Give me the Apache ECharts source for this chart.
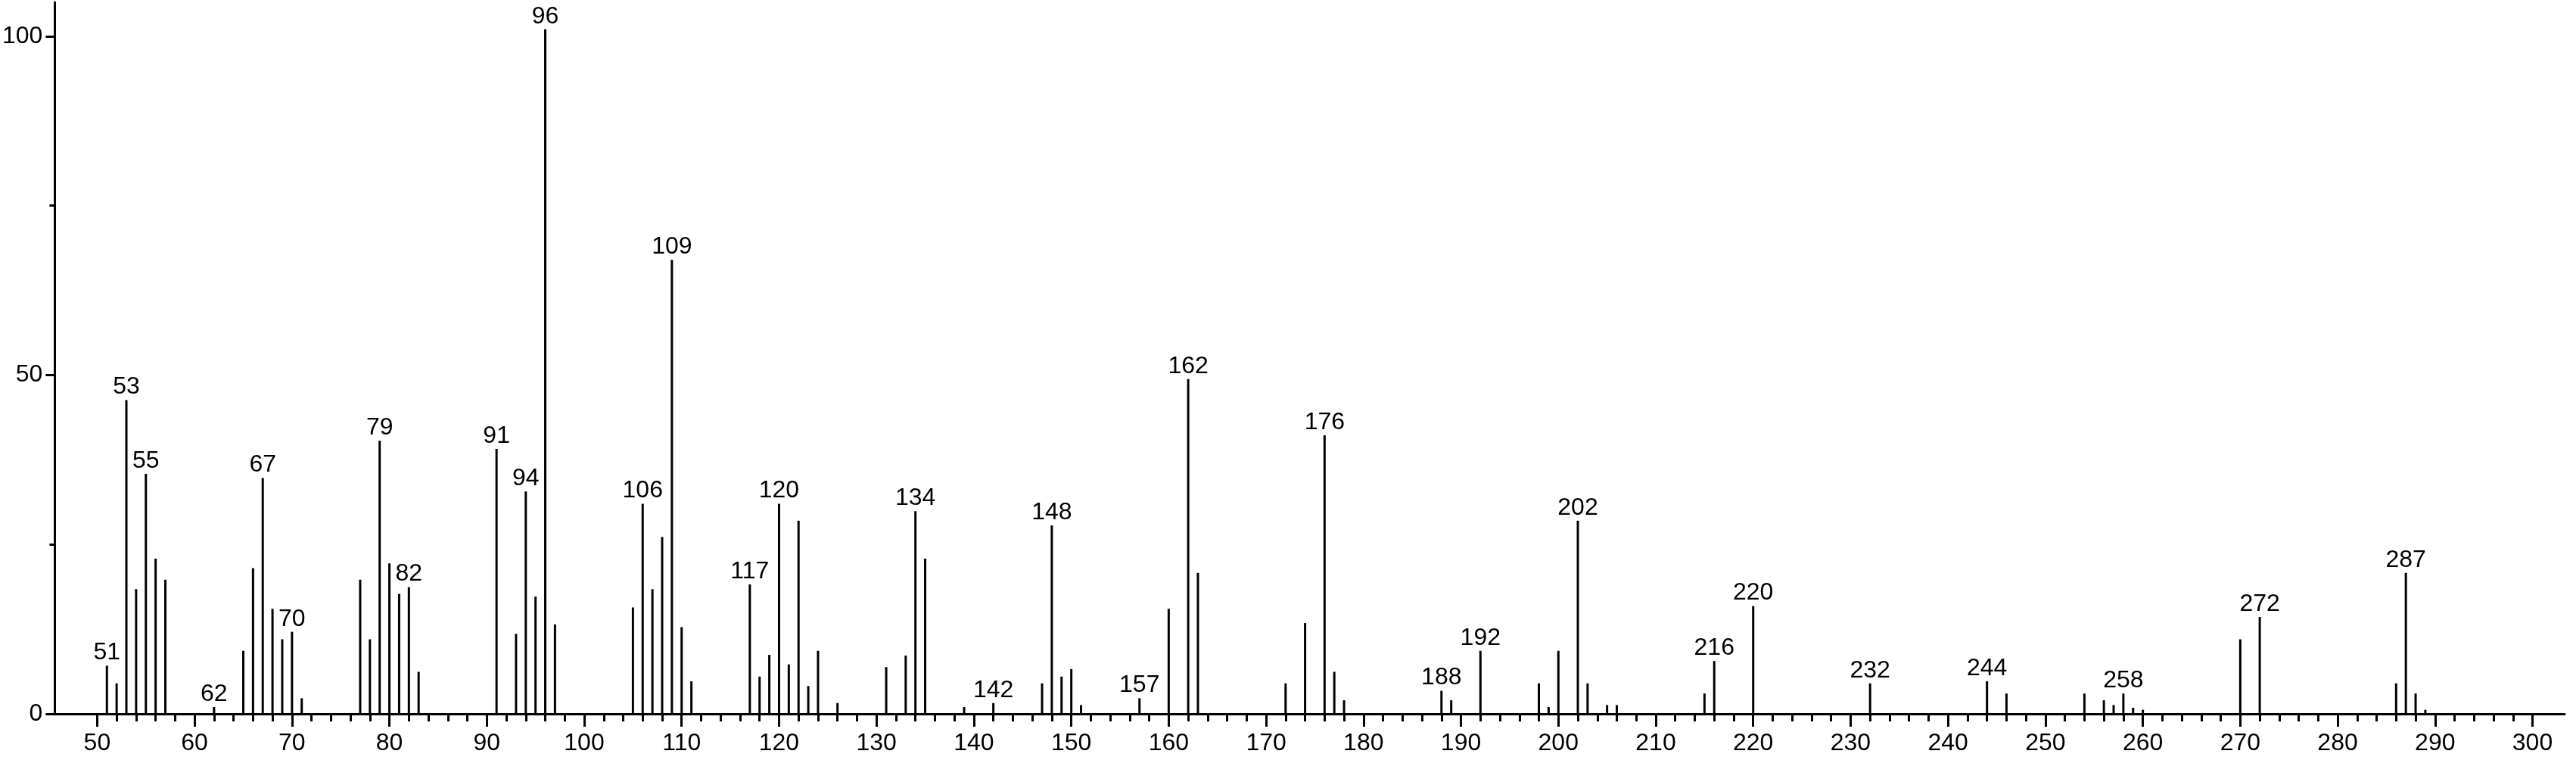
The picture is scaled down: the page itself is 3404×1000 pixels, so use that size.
<!DOCTYPE html>
<html>
<head>
<meta charset="utf-8">
<script src="https://cdn.jsdelivr.net/npm/echarts@6/dist/echarts.min.js"></script>
<style>
  html, body { margin: 0; padding: 0; background: #fff; }
  #spectrum { width: 3404px; height: 1000px; }
</style>
</head>
<body>
<div id="spectrum"></div>
<script>
// m/z values and relative intensities
const mz = [
  51, 52, 53, 54, 55, 56, 57, 62, 65, 66, 67, 68, 69, 70, 71,
  77, 78, 79, 80, 81, 82, 83, 91, 93, 94, 95, 96, 97,
  105, 106, 107, 108, 109, 110, 111, 117, 118, 119, 120, 121, 122, 123, 124, 126,
  131, 133, 134, 135, 139, 142, 147, 148, 149, 150, 151, 157, 160, 162, 163,
  172, 174, 176, 177, 178, 188, 189, 192, 198, 199, 200, 202, 203, 205, 206,
  215, 216, 220, 232, 244, 246, 254, 256, 257, 258, 259, 260,
  270, 272, 286, 287, 288, 289
];
const intensity = [
  7.1, 4.5, 46.3, 18.4, 35.4, 22.9, 19.8, 1.0, 9.3, 21.5, 34.8, 15.5, 11.0, 12.1, 2.3,
  19.8, 11.0, 40.3, 22.2, 17.7, 18.7, 6.2, 39.1, 11.8, 32.8, 17.3, 101, 13.2,
  15.7, 31.0, 18.4, 26.1, 67.0, 12.8, 4.8, 19.1, 5.5, 8.7, 31.0, 7.3, 28.5, 4.1, 9.3, 1.6,
  6.9, 8.6, 29.9, 22.9, 1.0, 1.6, 4.5, 27.8, 5.5, 6.6, 1.3, 2.3, 15.5, 49.4, 20.8,
  4.5, 13.4, 41.1, 6.2, 2.0, 3.4, 2.0, 9.3, 4.5, 1.0, 9.3, 28.5, 4.5, 1.3, 1.3,
  3.0, 7.8, 15.9, 4.5, 4.8, 3.0, 3.0, 2.0, 1.3, 3.0, 0.9, 0.6,
  11.0, 14.3, 4.5, 20.8, 3.0, 0.6
];
// peaks that carry an m/z label
const labelled = [
  51, 53, 55, 62, 67, 70, 79, 82, 91, 94, 96, 106, 109, 117, 120, 134, 142,
  148, 157, 162, 176, 188, 192, 202, 216, 220, 232, 244, 258, 272, 287
];
// axis ticks
const xLabelTicks = [50, 60, 70, 80, 90, 100, 110, 120, 130, 140, 150, 160, 170, 180,
  190, 200, 210, 220, 230, 240, 250, 260, 270, 280, 290, 300];
const yLabelTicks = [0, 50, 100];
const yMinorTicks = [25, 75];

const xMinorTicks = [];
for (let v = 50; v <= 300; v += 2) xMinorTicks.push(v);

const font = 'Liberation Sans, Arial, sans-serif';
const X_MIN = 45.65, X_MAX = 303.3;

const data = mz.map((m, i) => ({
  value: [m, intensity[i]],
  label: { show: labelled.includes(m) }
}));

const chart = echarts.init(document.getElementById('spectrum'));
chart.setOption({
  animation: false,
  grid: { left: 70, right: 15, top: 3, bottom: 57 },
  xAxis: [
    {
      type: 'value', min: X_MIN, max: X_MAX, position: 'bottom',
      axisLine: { lineStyle: { color: '#000', width: 3 } },
      axisTick: { show: true, customValues: xMinorTicks, length: 10, lineStyle: { color: '#000', width: 3 } },
      axisLabel: { customValues: xLabelTicks, margin: 23, color: '#000', fontSize: 32, fontFamily: font },
      splitLine: { show: false }
    },
    {
      type: 'value', min: X_MIN, max: X_MAX, position: 'bottom',
      axisLine: { show: false },
      axisTick: { show: true, customValues: xLabelTicks, length: 17, lineStyle: { color: '#000', width: 3 } },
      axisLabel: { show: false },
      splitLine: { show: false }
    }
  ],
  yAxis: [
    {
      type: 'value', min: 0, max: 105, position: 'left',
      axisLine: { show: true, lineStyle: { color: '#000', width: 3 } },
      axisTick: { show: true, customValues: yLabelTicks, length: 12, lineStyle: { color: '#000', width: 3 } },
      axisLabel: { customValues: yLabelTicks, margin: 16, color: '#000', fontSize: 32, fontFamily: font },
      splitLine: { show: false }
    },
    {
      type: 'value', min: 0, max: 105, position: 'left',
      axisLine: { show: false },
      axisTick: { show: true, customValues: yMinorTicks, length: 7, lineStyle: { color: '#000', width: 3 } },
      axisLabel: { show: false },
      splitLine: { show: false }
    }
  ],
  series: [
    {
      type: 'bar',
      xAxisIndex: 0,
      yAxisIndex: 0,
      barWidth: 3,
      itemStyle: { color: '#000' },
      label: {
        position: 'top', distance: 1, color: '#000', fontSize: 32, fontFamily: font,
        formatter: p => p.value[0]
      },
      data: data
    }
  ]
});
</script>
</body>
</html>
